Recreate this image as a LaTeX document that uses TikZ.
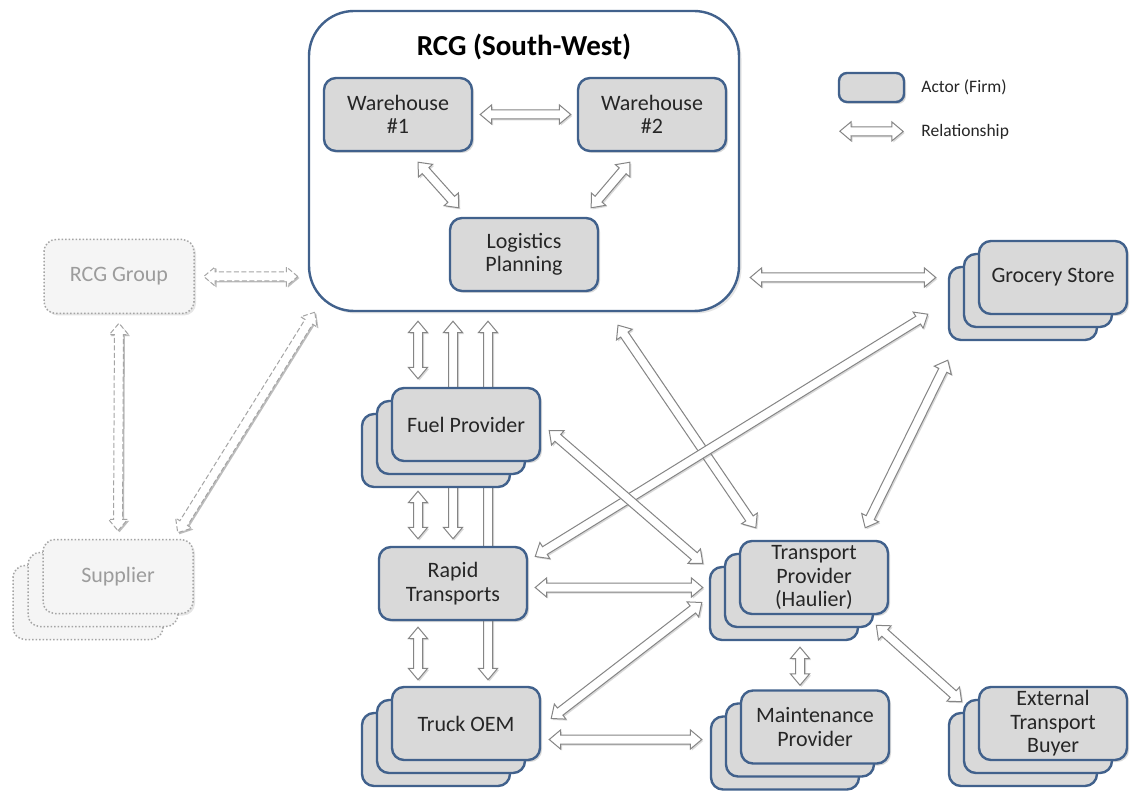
\documentclass[tikz,border=0pt]{standalone}
\usepackage{fontspec}
\setmainfont{Carlito}
\usetikzlibrary{positioning, calc, shapes.arrows, shadows, backgrounds}

\definecolor{actorline}{HTML}{41618C}
\definecolor{actorfill}{HTML}{D9D9D9}
\definecolor{relline}{HTML}{858585}
\definecolor{ghostline}{HTML}{A5A5A5}
\definecolor{ghostfill}{HTML}{F5F5F5}
\definecolor{ghosttext}{HTML}{9C9C9C}

\newcommand{\boxfont}{\fontsize{22}{23.5}\selectfont}
\newcommand{\titlefont}{\fontsize{29}{32}\selectfont\bfseries}
\newcommand{\legfont}{\fontsize{17.5}{20}\selectfont}

\tikzset{
  x=1pt, y=-1pt,
  actor/.style={draw=actorline, fill=actorfill, line width=2.4pt,
    rounded corners=12pt, minimum width=148pt, minimum height=73pt,
    align=center, font=\boxfont, text=black!85,
    drop shadow={shadow xshift=2pt, shadow yshift=-2pt, opacity=.3}},
  stack/.style={actor, double copy shadow={shadow xshift=-15pt, shadow yshift=-13pt,
    draw=actorline, fill=actorfill, line width=2.4pt}},
  ghost/.style={draw=ghostline, fill=ghostfill, dotted, line width=1.5pt,
    rounded corners=12pt, minimum width=150pt, minimum height=74pt,
    font=\boxfont, text=ghosttext,
    drop shadow={shadow xshift=2pt, shadow yshift=-2pt, opacity=.2}},
  ghoststack/.style={ghost, double copy shadow={shadow xshift=-15pt, shadow yshift=-13pt,
    draw=ghostline, fill=ghostfill, dotted, line width=1.5pt}},
  container/.style={draw=actorline, fill=white, line width=2.4pt, rounded corners=45pt,
    minimum width=430pt, minimum height=300pt,
    drop shadow={shadow xshift=2.5pt, shadow yshift=-2.5pt, opacity=.2}},
  legtext/.style={font=\legfont, text=black!85, inner sep=1pt},
  relarrow/.style={double arrow, draw=relline, fill=white, line width=1pt,
    inner xsep=0pt, inner ysep=4pt, minimum width=0pt, double arrow head extend=5pt,
    double arrow tip angle=80,
    drop shadow={shadow xshift=1.5pt, shadow yshift=-1.5pt, opacity=.3}},
  ghostarrow/.style={relarrow, draw=ghostline, dash pattern=on 5pt off 2.5pt},
}

\newcommand{\relate}[3][]{%
  \path let \p1=#2, \p2=#3 in
    node[relarrow, #1, minimum height={veclen(\x2-\x1,\y2-\y1)},
      rotate={atan2(\y2-\y1,\x2-\x1)}] at ($(\p1)!0.5!(\p2)$) {};}

\begin{document}
\begin{tikzpicture}
  \useasboundingbox (0,0) rectangle (1130,794);

  % RCG South-West
  \node[container] (rcg) at (524,161) {};
  \node[font=\titlefont] (rcgtitle) at (524,47) {RCG (South-West)};
  \node[actor] (wh1) at (398,114.5) {Warehouse\\\#1};
  \node[actor] (wh2) at (652,114.5) {Warehouse\\\#2};
  \node[actor] (plan) at (524,254.5) {Logistics\\Planning};

  % actors
  \node[ghost] (group) at (119,276.5) {RCG Group};
  \node[ghoststack] (supplier) at (118,576.5) {Supplier};
  \node[stack] (fuel) at (466,424.5) {Fuel Provider};
  \node[actor] (rapid) at (453,583.5) {Rapid\\Transports};
  \node[stack] (truck) at (466,723.5) {Truck OEM};
  \node[stack] (haulier) at (814,577.5) {Transport\\Provider\\(Haulier)};
  \node[stack] (maint) at (815,727) {Maintenance\\Provider};
  \node[stack] (buyer) at (1053,723.5) {External\\Transport\\Buyer};
  \node[stack] (grocery) at (1053,277.5) {Grocery Store};

  % legend
  \node[actor, minimum width=65pt, minimum height=29pt, rounded corners=8pt] (legbox) at (871.5,87.5) {};
  \node[legtext, right=15pt of legbox] (legactor) {Actor (Firm)};
  \node[legtext, anchor=west] (legrel) at ($(legbox.east)+(15,44)$) {Relationship};

  % relationships
  \relate{($(wh1.east)+(7,0)$)}{($(wh2.west)+(-6,0)$)}
  \relate{($(wh1.south)+(20,10)$)}{($(plan.north west)+(10,-9)$)}
  \relate{($(wh2.south)+(-22,10)$)}{($(plan.north east)+(-8,-9)$)}
  \relate{($(rcg.east |- grocery)+(10,0)$)}{($(grocery.west)+(-42,0)$)}
  \relate{($(rcg.south -| fuel)+(-48,9)$)}{($(fuel.north)+(-48,-8)$)}
  \relate{($(fuel.south)+(-48,29)$)}{($(rapid.north)+(-35,-7)$)}
  \relate{($(rapid.south)+(-35,6)$)}{($(truck.north)+(-48,-6)$)}
  \relate{($(rcg.south)+(94,13)$)}{($(haulier.north west)+(17,-12)$)}
  \relate{($(grocery.south west)+(-50,-1)$)}{($(rapid.east)+(7,-27)$)}
  \relate{($(grocery.south west)+(-30,45)$)}{($(haulier.north east)+(-24,-12)$)}
  \relate{($(fuel.east)+(8,6)$)}{($(haulier.west)+(-36,-14)$)}
  \relate{($(rapid.east)+(7,4)$)}{($(rapid.east -| haulier.west)+(-36,4)$)}
  \relate{($(truck.east)+(10,-5)$)}{($(haulier.west)+(-37,25)$)}
  \relate{($(truck.east)+(8,16)$)}{($(truck.east -| maint.west)+(-38,16)$)}
  \relate{($(haulier.south)+(-14,32)$)}{($(maint.north)+(-15,-4)$)}
  \relate{($(haulier.south east)+(-13,10)$)}{($(buyer.north west)+(-16,16)$)}

  % group relations
  \relate[ghostarrow]{($(group.east)+(9,0)$)}{($(group.east -| rcg.west)+(-10,0)$)}
  \relate[ghostarrow]{($(group.south)+(0,9)$)}{($(supplier.north)+(0,-8)$)}
  \relate[ghostarrow]{($(supplier.north east)+(-16,-6)$)}{($(rcg.south west)+(7,0)$)}

  % legend arrow
  \relate{($(legbox.south west)+(2,28)$)}{($(legrel.west)+(-17,0)$)}

  % long ones run behind the boxes
  \begin{pgfonlayer}{background}
    \fill[white] (0,0) rectangle (1130,794);
    \relate{($(rcg.south -| rapid)+(0,9)$)}{($(rapid.north)+(0,-7)$)}
    \relate{($(rcg.south -| truck)+(22,9)$)}{($(truck.north)+(22,-6)$)}
  \end{pgfonlayer}
\end{tikzpicture}
\end{document}
